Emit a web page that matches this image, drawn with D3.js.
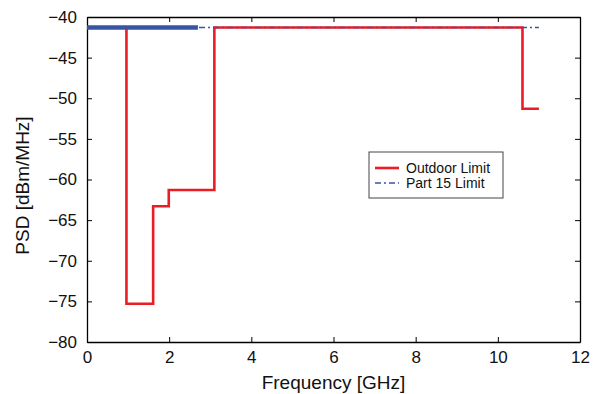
<!DOCTYPE html>
<html>
<head>
<meta charset="utf-8">
<script src="https://cdn.jsdelivr.net/npm/d3@7"></script>
<style>
  body { margin: 0; background: #fff; }
  text { font-family: "Liberation Sans", Arial, sans-serif; }
</style>
</head>
<body>
<div id="chart"></div>
<script>
// Outdoor limit (step mask)
var outdoorFreq = [0.96, 0.96, 1.61, 1.61, 1.99, 1.99, 3.1, 3.1, 10.6, 10.6, 11.0];
var outdoorPsd  = [-41.3, -75.3, -75.3, -63.3, -63.3, -61.3, -61.3, -41.3, -41.3, -51.3, -51.3];

// Part 15 limit
var part15Freq = [0, 11.0];
var part15Psd  = [-41.3, -41.3];
// dense (solid looking) portion of part 15 trace
var part15DenseFreq = [0, 2.7];

var xTicks = [0, 2, 4, 6, 8, 10, 12];
var yTicks = [-80, -75, -70, -65, -60, -55, -50, -45, -40];
var legendLabels = ["Outdoor Limit", "Part 15 Limit"];

var margin = {top: 17, right: 14, bottom: 52, left: 87};
var fullW = 594, fullH = 394;
var width = fullW - margin.left - margin.right;
var height = fullH - margin.top - margin.bottom;

var red = "#ec1c24";
var blue = "#3a54a4";

var svg = d3.select("#chart")
    .append("svg")
    .attr("width", fullW)
    .attr("height", fullH)
    .append("g")
    .attr("transform", "translate(" + margin.left + "," + margin.top + ")");

var x = d3.scaleLinear().domain([0, 12]).range([0, width]);
var y = d3.scaleLinear().domain([-80, -40]).range([height, 0]);

// axes (inward ticks on all four sides)
var fmt = function(d) { return d < 0 ? "\u2212" + Math.abs(d) : d; };

var xb = svg.append("g")
    .attr("transform", "translate(0," + height + ")")
    .call(d3.axisBottom(x).tickValues(xTicks).tickSizeInner(-5).tickSizeOuter(0).tickPadding(9).tickFormat(fmt));
var xt = svg.append("g")
    .call(d3.axisTop(x).tickValues(xTicks).tickSizeInner(-5).tickSizeOuter(0).tickFormat(""));
var yl = svg.append("g")
    .call(d3.axisLeft(y).tickValues(yTicks).tickSizeInner(-5).tickSizeOuter(0).tickPadding(10).tickFormat(fmt));
var yr = svg.append("g")
    .attr("transform", "translate(" + width + ",0)")
    .call(d3.axisRight(y).tickValues(yTicks).tickSizeInner(-5).tickSizeOuter(0).tickFormat(""));

[xb, xt, yl, yr].forEach(function(g) {
    g.select(".domain").attr("stroke", "#000").attr("stroke-width", 1.3);
    g.selectAll(".tick line").attr("stroke", "#000").attr("stroke-width", 1);
    g.selectAll(".tick text").attr("fill", "#111").style("font-size", "17px")
        .style("font-family", "'Liberation Sans', Arial, sans-serif");
});

// axis titles
svg.append("text")
    .attr("x", width / 2)
    .attr("y", height + 47)
    .attr("text-anchor", "middle")
    .style("font-size", "19px")
    .attr("fill", "#111")
    .text("Frequency [GHz]");

svg.append("text")
    .attr("transform", "translate(" + (-58) + "," + (height / 2 + 6) + ") rotate(-90)")
    .attr("text-anchor", "middle")
    .style("font-size", "19px")
    .attr("fill", "#111")
    .text("PSD [dBm/MHz]");

var line = d3.line()
    .x(function(d) { return x(d[0]); })
    .y(function(d) { return y(d[1]); });

// outdoor limit
svg.append("path")
    .datum(d3.zip(outdoorFreq, outdoorPsd))
    .attr("d", line)
    .attr("fill", "none")
    .attr("stroke", red)
    .attr("stroke-width", 2.6);

// part 15 limit: dense part drawn as thick solid
svg.append("path")
    .datum(part15DenseFreq.map(function(f) { return [f, part15Psd[0]]; }))
    .attr("d", line)
    .attr("fill", "none")
    .attr("stroke", blue)
    .attr("stroke-width", 4.5);

svg.append("path")
    .datum(d3.zip(part15Freq, part15Psd))
    .attr("d", line)
    .attr("fill", "none")
    .attr("stroke", blue)
    .attr("stroke-width", 1.4)
    .attr("stroke-dasharray", "6,3,2,3");

// legend
var lg = svg.append("g")
    .attr("transform", "translate(" + (369 - margin.left) + "," + (152 - margin.top) + ")");
lg.append("rect")
    .attr("width", 134)
    .attr("height", 46)
    .attr("fill", "#fff")
    .attr("stroke", "#444")
    .attr("stroke-width", 1);

var styles = [
    {stroke: red, width: 2.6, dash: null},
    {stroke: blue, width: 1.4, dash: "6,3,2,3"}
];
legendLabels.forEach(function(lbl, i) {
    var yy = 16 + i * 15;
    lg.append("line")
        .attr("x1", 6).attr("x2", 30)
        .attr("y1", yy).attr("y2", yy)
        .attr("stroke", styles[i].stroke)
        .attr("stroke-width", styles[i].width)
        .attr("stroke-dasharray", styles[i].dash);
    lg.append("text")
        .attr("x", 37)
        .attr("y", yy + 5)
        .style("font-size", "14px")
        .attr("fill", "#111")
        .text(lbl);
});
</script>
</body>
</html>
